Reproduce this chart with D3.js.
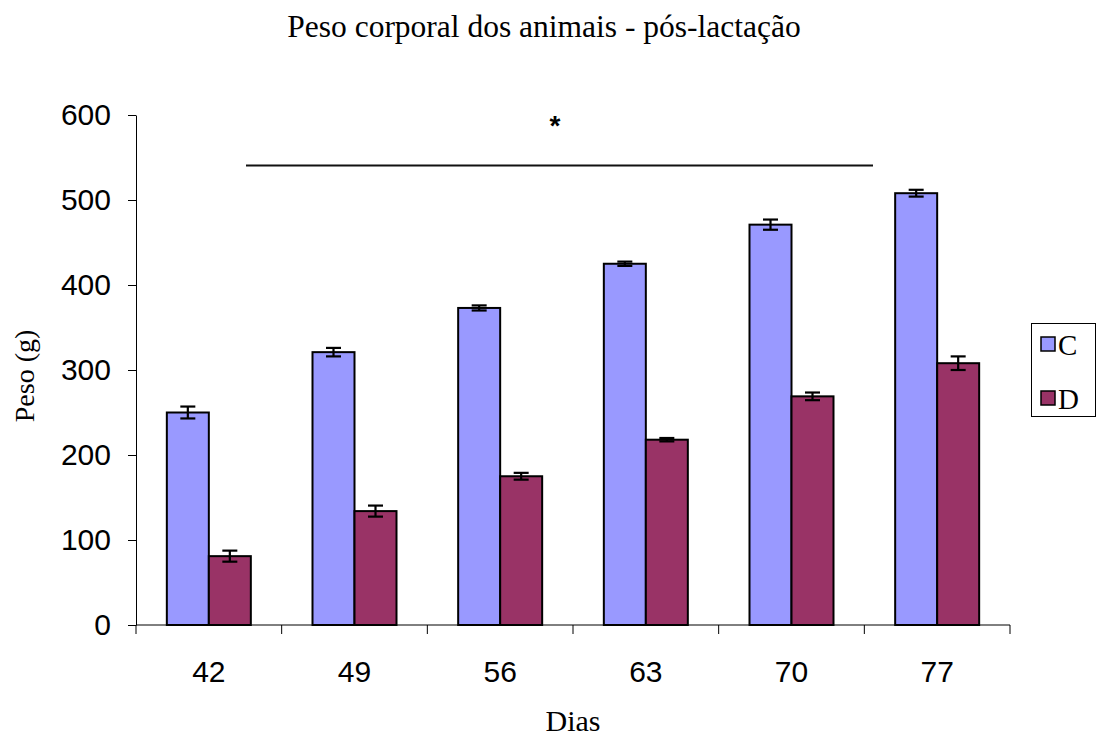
<!DOCTYPE html>
<html><head><meta charset="utf-8">
<script src="https://cdn.jsdelivr.net/npm/d3@7"></script>
<style>body{margin:0;background:#fff}</style>
</head><body>
<svg id="chart" width="1097" height="740"></svg>
<script>
const days = ["42","49","56","63","70","77"];
const seriesNames = ["C","D"];
const valuesC = [250, 321, 373, 425, 471, 508];
const errorsC = [7, 5, 3, 2.5, 6, 4];
const valuesD = [81, 134, 175, 218, 269, 308];
const errorsD = [6.5, 6.5, 4, 2, 4.5, 8];
const yTicks = [0,100,200,300,400,500,600];
const colors = ["#9999FF","#993366"];

(function(){
const svg = d3.select("#chart");
const mLeft = 136, mRight = 1010, mTop = 115, mBottom = 625;
const serif = "Liberation Serif, Times New Roman, serif";
const sans = "Liberation Sans, Arial, sans-serif";
const x = d3.scaleBand().domain(days).range([mLeft, mRight]).paddingInner(0).paddingOuter(0);
const xs = d3.scaleBand().domain(seriesNames).range([0, 84]);
const y = d3.scaleLinear().domain([0,600]).range([mBottom, mTop]);

// title
svg.append("text").attr("x",544).attr("y",37).attr("text-anchor","middle")
  .attr("font-family",serif).attr("font-size",31.5)
  .text("Peso corporal dos animais - pós-lactação");

// y axis
const yAxis = svg.append("g").attr("transform",`translate(${mLeft},0)`)
  .call(d3.axisLeft(y).tickValues(yTicks).tickSize(8).tickSizeOuter(0).tickPadding(17));
yAxis.select(".domain").attr("stroke","#000");
yAxis.selectAll("line").attr("stroke","#000");
yAxis.selectAll("text").attr("font-family",sans).attr("font-size",30).attr("fill","#000");

// x axis with ticks at band boundaries
const xg = svg.append("g").attr("transform",`translate(0,${mBottom})`);
xg.append("line").attr("x1",mLeft).attr("x2",mRight).attr("y1",0).attr("y2",0).attr("stroke","#000");
const bounds = days.map(d=>x(d)).concat([mRight]);
xg.selectAll("line.tk").data(bounds).join("line").attr("class","tk")
  .attr("x1",d=>d).attr("x2",d=>d).attr("y1",0).attr("y2",9).attr("stroke","#000");
xg.selectAll("text").data(days).join("text")
  .attr("x",d=>x(d)+x.bandwidth()/2).attr("y",57).attr("text-anchor","middle")
  .attr("font-family",sans).attr("font-size",30).text(d=>d);

// bars
const groupOffset = (x.bandwidth()-84)/2;
const series = [{name:"C",vals:valuesC,errs:errorsC},{name:"D",vals:valuesD,errs:errorsD}];
series.forEach((s,si)=>{
  const g = svg.append("g");
  g.selectAll("rect").data(days).join("rect")
    .attr("x",(d)=>x(d)+groupOffset+xs(s.name))
    .attr("y",(d,i)=>y(s.vals[i]))
    .attr("width",xs.bandwidth())
    .attr("height",(d,i)=>y(0)-y(s.vals[i]))
    .attr("fill",colors[si]).attr("stroke","#000").attr("stroke-width",2);
});
series.forEach((s,si)=>{
  const g = svg.append("g").attr("stroke","#000").attr("stroke-width",2.2);
  days.forEach((d,i)=>{
    const cx = x(d)+groupOffset+xs(s.name)+xs.bandwidth()/2;
    const y1 = y(s.vals[i]+s.errs[i]), y2 = y(s.vals[i]-s.errs[i]);
    g.append("line").attr("x1",cx).attr("x2",cx).attr("y1",y1).attr("y2",y2);
    g.append("line").attr("x1",cx-7.5).attr("x2",cx+7.5).attr("y1",y1).attr("y2",y1);
    g.append("line").attr("x1",cx-7.5).attr("x2",cx+7.5).attr("y1",y2).attr("y2",y2);
  });
});

// significance line and star
svg.append("line").attr("x1",246).attr("x2",873).attr("y1",165.5).attr("y2",165.5)
  .attr("stroke","#111").attr("stroke-width",1.8);
svg.append("text").attr("x",555).attr("y",135).attr("text-anchor","middle")
  .attr("font-family",sans).attr("font-size",28).attr("font-weight","bold").text("*");

// axis titles
svg.append("text").attr("transform","translate(34,376) rotate(-90)").attr("text-anchor","middle")
  .attr("font-family",serif).attr("font-size",28).text("Peso (g)");
svg.append("text").attr("x",573).attr("y",731).attr("text-anchor","middle")
  .attr("font-family",serif).attr("font-size",30).text("Dias");

// legend
const lg = svg.append("g");
lg.append("rect").attr("x",1031.5).attr("y",323.5).attr("width",64).attr("height",93)
  .attr("fill","#fff").attr("stroke","#000").attr("stroke-width",1);
seriesNames.forEach((n,i)=>{
  const yy = 337 + i*54;
  lg.append("rect").attr("x",1041).attr("y",yy).attr("width",14).attr("height",14)
    .attr("fill",colors[i]).attr("stroke","#000").attr("stroke-width",1.5);
  lg.append("text").attr("x",1058).attr("y",yy+18).attr("font-family",serif)
    .attr("font-size",29).text(n);
});
})();
</script>
</body></html>
